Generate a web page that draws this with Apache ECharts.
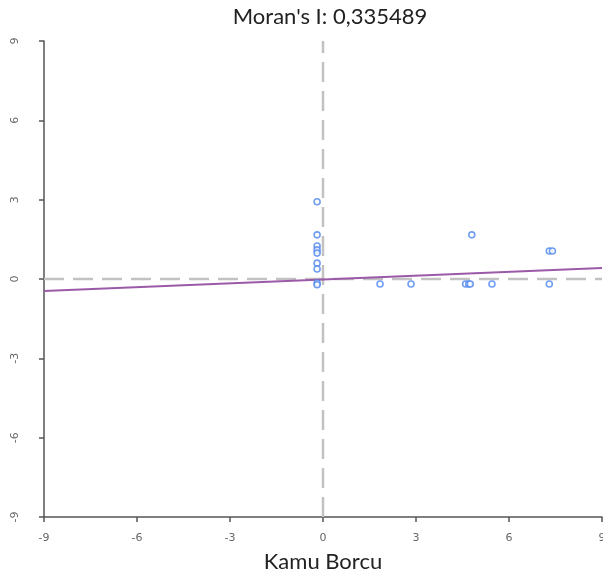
<!DOCTYPE html>
<html>
<head>
<meta charset="utf-8">
<script src="https://cdn.jsdelivr.net/npm/echarts@6/dist/echarts.min.js"></script>
<style>html,body{margin:0;padding:0;background:#fff;}#c{width:603px;height:576px;}</style>
</head>
<body>
<div id="c"></div>
<script>
const titleText = "Moran's I: 0,335489";
const xName = "Kamu Borcu";
const axisTicks = [-9, -6, -3, 0, 3, 6, 9];
const pointsX = [-0.19, -0.19, -0.19, -0.19, -0.19, -0.19, -0.19, -0.19, -0.19, 1.84, 2.84, 4.6, 4.7, 4.75, 4.8, 5.45, 7.3, 7.4, 7.3];
const pointsY = [2.92, 1.67, 1.25, 1.1, 0.98, 0.6, 0.38, -0.15, -0.22, -0.19, -0.19, -0.19, -0.19, -0.19, 1.67, -0.19, 1.06, 1.06, -0.19];
const regX = [-9, 9];
const regY = [-0.45, 0.42];
const refLineX = [0, 0];
const refLineY = [-9, 9];

const chart = echarts.init(document.getElementById('c'));
const pts = pointsX.map((x, i) => [x, pointsY[i]]);
chart.setOption({
  animation: false,
  backgroundColor: '#fff',
  title: {
    text: titleText, left: 325, textAlign: 'center', top: 1,
    textStyle: { fontFamily: 'Lato', fontSize: 22, fontWeight: 'normal', color: '#222' }
  },
  grid: { left: 44, right: 1, top: 41, bottom: 59, containLabel: false, outerBoundsMode: 'none' },
  xAxis: {
    type: 'value', min: axisTicks[0], max: axisTicks[axisTicks.length - 1], interval: 3,
    name: xName, nameLocation: 'middle', nameGap: 34,
    nameTextStyle: { fontFamily: 'Lato', fontSize: 22, color: '#222' },
    axisLine: { show: true, onZero: false, lineStyle: { color: '#555', width: 1.5 } },
    axisTick: { show: true, length: 5, lineStyle: { color: '#555', width: 1.5 } },
    axisLabel: { fontSize: 11, color: '#666', margin: 16, fontFamily: 'DejaVu Sans' },
    splitLine: { show: false }
  },
  yAxis: {
    type: 'value', min: axisTicks[0], max: axisTicks[axisTicks.length - 1], interval: 3,
    axisLine: { show: true, onZero: false, lineStyle: { color: '#555', width: 1.5 } },
    axisTick: { show: true, length: 5, lineStyle: { color: '#555', width: 1.5 } },
    axisLabel: { fontSize: 11, color: '#666', margin: 23, rotate: 90, fontFamily: 'DejaVu Sans' },
    splitLine: { show: false }
  },
  series: [
    {
      type: 'line', data: refLineX.map((x, i) => [x, refLineY[i]]), symbol: 'none',
      lineStyle: { color: '#c2c2c2', width: 2.5, type: [20, 9] }, z: 1
    },
    {
      type: 'line', data: refLineY.map((y, i) => [y, refLineX[i]]), symbol: 'none',
      lineStyle: { color: '#c2c2c2', width: 2.5, type: [20, 9] }, z: 1
    },
    {
      type: 'line', data: regX.map((x, i) => [x, regY[i]]), symbol: 'none',
      lineStyle: { color: '#9b5aa8', width: 2 }, z: 2
    },
    {
      type: 'scatter', data: pts, symbol: 'circle', symbolSize: 6,
      itemStyle: { color: '#fff', borderColor: '#4f86ee', borderWidth: 1.6 }, z: 3
    }
  ]
});
</script>
</body>
</html>
